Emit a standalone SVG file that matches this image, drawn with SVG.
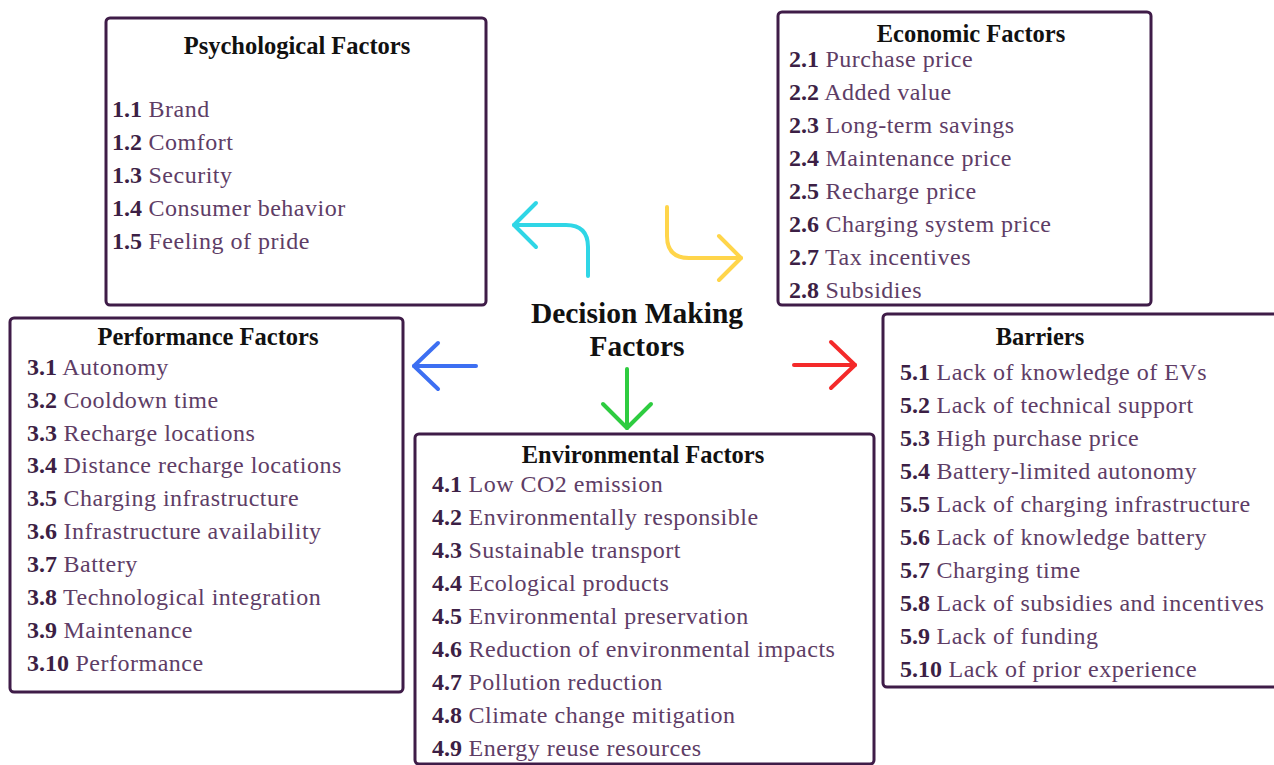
<svg xmlns="http://www.w3.org/2000/svg" width="1274" height="765" viewBox="0 0 1274 765">
  <style>
    .box { fill: #ffffff; stroke: #3f1c48; stroke-width: 3; }
    .title { font-family: "Liberation Serif", "Times New Roman", "DejaVu Serif", serif; font-weight: bold; font-size: 24.5px; fill: #111111; text-anchor: middle; }
    .center { font-family: "Liberation Serif", "Times New Roman", "DejaVu Serif", serif; font-weight: bold; font-size: 29.5px; fill: #111111; text-anchor: middle; }
    .item { font-family: "Liberation Serif", "Times New Roman", "DejaVu Serif", serif; font-weight: normal; font-size: 24px; letter-spacing: 0.5px; fill: #5e3d66; }
    .num { font-weight: bold; letter-spacing: 0; fill: #3c1f45; }
    .arrow { fill: none; stroke-width: 4; stroke-linecap: round; stroke-linejoin: round; }
  </style>
  <rect width="1274" height="765" fill="#ffffff"/>

  <!-- central label -->
  <g id="decision-making">
    <text class="center" x="637" y="323">Decision Making</text>
    <text class="center" x="637" y="356">Factors</text>
  </g>

  <g id="psychological">
    <rect class="box" x="106" y="18" width="380" height="287" rx="4"/>
    <text class="title" x="297" y="54">Psychological Factors</text>
    <text class="item" x="112" y="117"><tspan class="num">1.1</tspan> Brand</text>
    <text class="item" x="112" y="150"><tspan class="num">1.2</tspan> Comfort</text>
    <text class="item" x="112" y="183"><tspan class="num">1.3</tspan> Security</text>
    <text class="item" x="112" y="216"><tspan class="num">1.4</tspan> Consumer behavior</text>
    <text class="item" x="112" y="249"><tspan class="num">1.5</tspan> Feeling of pride</text>
  </g>

  <g id="economic">
    <rect class="box" x="778" y="12" width="373" height="293" rx="4"/>
    <text class="title" x="971" y="42">Economic Factors</text>
    <text class="item" x="789" y="67"><tspan class="num">2.1</tspan> Purchase price</text>
    <text class="item" x="789" y="100"><tspan class="num">2.2</tspan> Added value</text>
    <text class="item" x="789" y="133"><tspan class="num">2.3</tspan> Long-term savings</text>
    <text class="item" x="789" y="166"><tspan class="num">2.4</tspan> Maintenance price</text>
    <text class="item" x="789" y="199"><tspan class="num">2.5</tspan> Recharge price</text>
    <text class="item" x="789" y="232"><tspan class="num">2.6</tspan> Charging system price</text>
    <text class="item" x="789" y="265"><tspan class="num">2.7</tspan> Tax incentives</text>
    <text class="item" x="789" y="298"><tspan class="num">2.8</tspan> Subsidies</text>
  </g>

  <g id="performance">
    <rect class="box" x="10" y="318" width="393" height="374" rx="4"/>
    <text class="title" x="208" y="345">Performance Factors</text>
    <text class="item" x="27" y="375"><tspan class="num">3.1</tspan> Autonomy</text>
    <text class="item" x="27" y="408"><tspan class="num">3.2</tspan> Cooldown time</text>
    <text class="item" x="27" y="441"><tspan class="num">3.3</tspan> Recharge locations</text>
    <text class="item" x="27" y="473"><tspan class="num">3.4</tspan> Distance recharge locations</text>
    <text class="item" x="27" y="506"><tspan class="num">3.5</tspan> Charging infrastructure</text>
    <text class="item" x="27" y="539"><tspan class="num">3.6</tspan> Infrastructure availability</text>
    <text class="item" x="27" y="572"><tspan class="num">3.7</tspan> Battery</text>
    <text class="item" x="27" y="605"><tspan class="num">3.8</tspan> Technological integration</text>
    <text class="item" x="27" y="638"><tspan class="num">3.9</tspan> Maintenance</text>
    <text class="item" x="27" y="671"><tspan class="num">3.10</tspan> Performance</text>
  </g>

  <g id="environmental">
    <rect class="box" x="415" y="434" width="459" height="330" rx="4"/>
    <text class="title" x="643" y="463">Environmental Factors</text>
    <text class="item" x="432" y="492"><tspan class="num">4.1</tspan> Low CO2 emission</text>
    <text class="item" x="432" y="525"><tspan class="num">4.2</tspan> Environmentally responsible</text>
    <text class="item" x="432" y="558"><tspan class="num">4.3</tspan> Sustainable transport</text>
    <text class="item" x="432" y="591"><tspan class="num">4.4</tspan> Ecological products</text>
    <text class="item" x="432" y="624"><tspan class="num">4.5</tspan> Environmental preservation</text>
    <text class="item" x="432" y="657"><tspan class="num">4.6</tspan> Reduction of environmental impacts</text>
    <text class="item" x="432" y="690"><tspan class="num">4.7</tspan> Pollution reduction</text>
    <text class="item" x="432" y="723"><tspan class="num">4.8</tspan> Climate change mitigation</text>
    <text class="item" x="432" y="756"><tspan class="num">4.9</tspan> Energy reuse resources</text>
  </g>

  <g id="barriers">
    <rect class="box" x="883" y="314" width="395" height="373" rx="4"/>
    <text class="title" x="1040" y="345">Barriers</text>
    <text class="item" x="900" y="380"><tspan class="num">5.1</tspan> Lack of knowledge of EVs</text>
    <text class="item" x="900" y="413"><tspan class="num">5.2</tspan> Lack of technical support</text>
    <text class="item" x="900" y="446"><tspan class="num">5.3</tspan> High purchase price</text>
    <text class="item" x="900" y="479"><tspan class="num">5.4</tspan> Battery-limited autonomy</text>
    <text class="item" x="900" y="512"><tspan class="num">5.5</tspan> Lack of charging infrastructure</text>
    <text class="item" x="900" y="545"><tspan class="num">5.6</tspan> Lack of knowledge battery</text>
    <text class="item" x="900" y="578"><tspan class="num">5.7</tspan> Charging time</text>
    <text class="item" x="900" y="611"><tspan class="num">5.8</tspan> Lack of subsidies and incentives</text>
    <text class="item" x="900" y="644"><tspan class="num">5.9</tspan> Lack of funding</text>
    <text class="item" x="900" y="677"><tspan class="num">5.10</tspan> Lack of prior experience</text>
  </g>

  <!-- connectors: open chevron arrows radiating from the centre -->
  <g id="connectors">
    <g stroke="#2fd6e6" class="arrow">
      <path d="M588 276 V247 Q588 225 566 225 H514"/>
      <path d="M536 203 L514 225 L536 247"/>
    </g>
    <g stroke="#ffd54a" class="arrow">
      <path d="M667 207 V236 Q667 258 689 258 H741"/>
      <path d="M719 236 L741 258 L719 280"/>
    </g>
    <g stroke="#2ecc40" class="arrow">
      <path d="M627 369 V428"/>
      <path d="M603 404 L627 428 L651 404"/>
    </g>
    <g stroke="#3d6ff2" class="arrow">
      <path d="M476 366 H414"/>
      <path d="M438 343 L414 366 L438 389"/>
    </g>
    <g stroke="#f42a2a" class="arrow">
      <path d="M794 365 H855"/>
      <path d="M831 342 L855 365 L831 388"/>
    </g>
  </g>
</svg>
